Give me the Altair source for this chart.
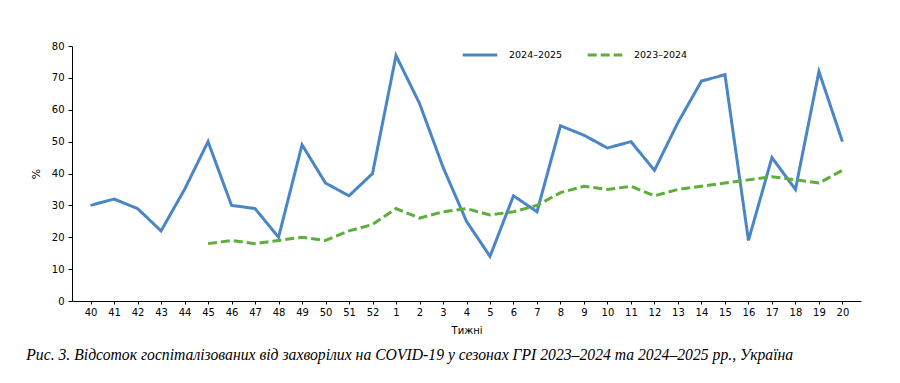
import altair as alt
import pandas as pd

weeks = ["40", "41", "42", "43", "44", "45", "46", "47", "48", "49", "50", "51", "52",
         "1", "2", "3", "4", "5", "6", "7", "8", "9", "10", "11", "12", "13", "14",
         "15", "16", "17", "18", "19", "20"]
season_2024_2025 = [30, 32, 29, 22, 35, 50, 30, 29, 20, 49, 37, 33, 40,
                    77, 62, 42, 25, 14, 33, 28, 55, 52, 48, 50, 41, 56, 69,
                    71, 19, 45, 35, 72, 50]
season_2023_2024 = [None, None, None, None, None, 18, 19, 18, 19, 20, 19, 22, 24,
                    29, 26, 28, 29, 27, 28, 30, 34, 36, 35, 36, 33, 35, 36,
                    37, 38, 39, 38, 37, 41]
series_names = ["2024–2025", "2023–2024"]
y_ticks = [0, 10, 20, 30, 40, 50, 60, 70, 80]

rows = []
for i, (w, v) in enumerate(zip(weeks, season_2024_2025)):
    rows.append({"week": w, "idx": i, "value": v, "season": series_names[0]})
for i, (w, v) in enumerate(zip(weeks, season_2023_2024)):
    if v is not None:
        rows.append({"week": w, "idx": i, "value": v, "season": series_names[1]})
df = pd.DataFrame(rows)

FONT = "DejaVu Sans"

chart = alt.Chart(df).mark_line(strokeWidth=3).encode(
    x=alt.X("week:O", sort=weeks,
            scale=alt.Scale(type="point", padding=0.79),
            axis=alt.Axis(title="Тижні", labelAngle=0, tickSize=3,
                          labelFontSize=10, titleFontSize=10, titleFontWeight="normal",
                          labelColor="#000000", titleColor="#000000",
                          domainColor="#000000", tickColor="#000000",
                          labelPadding=3, titlePadding=8)),
    y=alt.Y("value:Q", scale=alt.Scale(domain=[0, 80], nice=False),
            axis=alt.Axis(title="%", values=y_ticks, tickSize=4, grid=False,
                          labelFontSize=10, titleFontSize=11, titleFontWeight="normal",
                          labelColor="#000000", titleColor="#000000",
                          domainColor="#000000", tickColor="#000000",
                          labelPadding=4, titlePadding=10)),
    color=alt.Color("season:N",
                    scale=alt.Scale(domain=series_names, range=["#4A86C6", "#5DAE3A"]),
                    legend=alt.Legend(title=None, orient="none", legendX=389, legendY=-10,
                                      direction="horizontal", symbolType="stroke",
                                      symbolSize=1200, symbolStrokeWidth=3,
                                      labelFontSize=9.5, labelColor="#000000",
                                      columnPadding=18, labelOffset=10)),
    strokeDash=alt.StrokeDash("season:N",
                              scale=alt.Scale(domain=series_names, range=[[1, 0], [9, 4]]),
                              legend=None),
    order=alt.Order("idx:Q"),
).properties(
    width=789,
    height=255,
    title=alt.TitleParams(
        "Рис. 3. Відсоток госпіталізованих від захворілих на COVID-19 у сезонах ГРІ 2023–2024 та 2024–2025 рр., Україна",
        orient="bottom", anchor="start", font="Liberation Serif", fontStyle="italic",
        fontWeight="normal", fontSize=15.7, color="#000000", dx=-4, offset=13),
    padding={"left": 64, "top": 38, "right": 31, "bottom": 74},
    autosize=alt.AutoSizeParams(type="none"),
).configure(font=FONT).configure_view(stroke=None)

chart.save("out.html", embed_options={"renderer": "svg", "actions": False})
